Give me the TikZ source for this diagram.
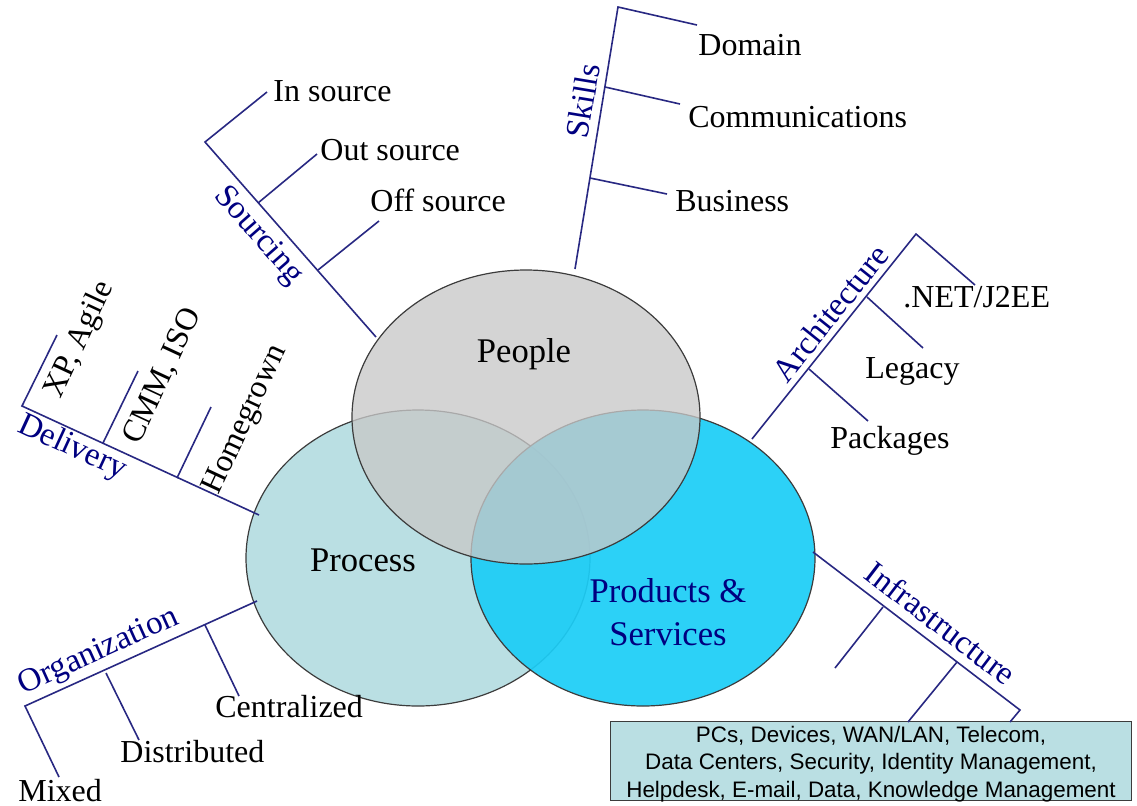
\documentclass[tikz,border=0pt]{standalone}
\usepackage{fontspec}
\setmainfont{Liberation Serif}
\newfontfamily\boxfont{Liberation Sans}
\definecolor{navyline}{RGB}{40,40,130}
\definecolor{navytext}{RGB}{0,0,128}
\definecolor{processfill}{RGB}{186,223,227}
\definecolor{productsfill}{RGB}{28,205,246}
\definecolor{peoplefill}{RGB}{200,200,200}
\definecolor{ringline}{RGB}{60,60,60}

\begin{document}
\begin{tikzpicture}[x=0.5pt,y=-0.5pt,
        ring/.style={draw=ringline,line width=0.6pt},
        branch/.style={draw=navyline,line width=0.8pt},
        item/.style={anchor=base west,inner sep=0pt,font=\fontsize{16}{19}\selectfont},
        slanted/.style={item,anchor=center,rotate=65},
        topic/.style={inner sep=0pt,text=navytext,font=\fontsize{16.5}{20}\selectfont},
        hub/.style={inner sep=0pt,align=center,font=\fontsize{17.3}{21.5}\selectfont}
    ]
    \useasboundingbox (0,0) rectangle (1137,805);
    \path[ring,fill=processfill] (418,558) ellipse [x radius=172,y radius=148];
    \path[ring,fill=productsfill,fill opacity=0.93] (643,558) ellipse [x radius=172,y radius=148];
    \path[ring,fill=peoplefill,fill opacity=0.78] (526,417) ellipse [x radius=174,y radius=147];
    \node[hub] (people) at (524,354) {People};
    \node[hub] (process) at (363,560) {Process};
    \node[hub,text=navytext] (products) at (668,612) {Products \&\\Services};

    \coordinate (srcA) at (205,142);
    \coordinate (srcB) at (376,337);
    \coordinate (srcIn) at (267,92);
    \coordinate (srcOutA) at (258,203);
    \coordinate (srcOutB) at (317,154);
    \coordinate (srcOffA) at (318,270);
    \coordinate (srcOffB) at (379,221);
    \draw[branch] (srcIn) -- (srcA) -- (srcB);
    \draw[branch] (srcOutA) -- (srcOutB);
    \draw[branch] (srcOffA) -- (srcOffB);
    \node[item] (insource) at (273,101) {In source};
    \node[item] (outsource) at (320,160) {Out source};
    \node[item] (offsource) at (370,211) {Off source};
    \node[topic,rotate=-48.7] (sourcing) at (258,236) {Sourcing};

    \coordinate (sklTop) at (618,7);
    \coordinate (sklBot) at (575,269);
    \coordinate (sklDom) at (697,25);
    \coordinate (sklComA) at (605,87);
    \coordinate (sklComB) at (680,104);
    \coordinate (sklBusA) at (590,178);
    \coordinate (sklBusB) at (667,194);
    \draw[branch] (sklBot) -- (sklTop) -- (sklDom);
    \draw[branch] (sklComA) -- (sklComB);
    \draw[branch] (sklBusA) -- (sklBusB);
    \node[item] (domain) at (698,55) {Domain};
    \node[item] (comms) at (688,127) {Communications};
    \node[item] (business) at (675,211) {Business};
    \node[topic,rotate=80.6] (skills) at (583,101) {Skills};

    \coordinate (dlvA) at (22,406);
    \coordinate (dlvB) at (259,515);
    \coordinate (dlvXP) at (57,335);
    \coordinate (dlvCmmA) at (103,443);
    \coordinate (dlvCmmB) at (138,371);
    \coordinate (dlvHomA) at (177,478);
    \coordinate (dlvHomB) at (211,407);
    \draw[branch] (dlvXP) -- (dlvA) -- (dlvB);
    \draw[branch] (dlvCmmA) -- (dlvCmmB);
    \draw[branch] (dlvHomA) -- (dlvHomB);
    \node[slanted] (agile) at (80,340) {XP, Agile};
    \node[slanted] (cmm) at (163,376) {CMM, ISO};
    \node[slanted] (homegrown) at (246,420) {Homegrown};
    \node[topic,rotate=-24.7] (delivery) at (72,448) {Delivery};

    \coordinate (orgA) at (25,706);
    \coordinate (orgB) at (257,601);
    \coordinate (orgMix) at (59,777);
    \coordinate (orgDisA) at (106,673);
    \coordinate (orgDisB) at (139,740);
    \coordinate (orgCenA) at (205,625);
    \coordinate (orgCenB) at (239,696);
    \draw[branch] (orgMix) -- (orgA) -- (orgB);
    \draw[branch] (orgDisA) -- (orgDisB);
    \draw[branch] (orgCenA) -- (orgCenB);
    \node[item] (mixed) at (18,801) {Mixed};
    \node[item] (distributed) at (120,762) {Distributed};
    \node[item] (centralized) at (215,717) {Centralized};
    \node[topic,rotate=24.3] (organization) at (99,652) {Organization};

    \coordinate (arcA) at (752,439);
    \coordinate (arcTop) at (916,234);
    \coordinate (arcNet) at (975,285);
    \coordinate (arcLegA) at (867,297);
    \coordinate (arcLegB) at (923,348);
    \coordinate (arcPacA) at (809,369);
    \coordinate (arcPacB) at (868,421);
    \draw[branch] (arcA) -- (arcTop) -- (arcNet);
    \draw[branch] (arcLegA) -- (arcLegB);
    \draw[branch] (arcPacA) -- (arcPacB);
    \node[item] (net) at (903,307) {.NET/J2EE};
    \node[item] (legacy) at (865,378) {Legacy};
    \node[item] (packages) at (830,448) {Packages};
    \node[topic,rotate=51.3] (architecture) at (830,313) {Architecture};

    \node[draw=ringline,fill=processfill,line width=0.6pt,minimum width=260.5pt,minimum height=39.5pt,
        inner sep=0pt] (infra) at (871,761) {};
    \node[inner sep=0pt,align=center,font=\boxfont\fontsize{11.2}{13.7}\selectfont] (infratext) at (871,764)
        {PCs, Devices, WAN/LAN, Telecom,\\Data Centers, Security, Identity Management,\\Helpdesk, E-mail, Data, Knowledge Management};
    \coordinate (infA) at (813,552);
    \coordinate (infB) at (1020,710);
    \coordinate (infC) at (1010,722);
    \coordinate (infOneA) at (883,607);
    \coordinate (infOneB) at (835,668);
    \coordinate (infTwoA) at (957,662);
    \coordinate (infTwoB) at (908,722);
    \draw[branch] (infA) -- (infB) -- (infC);
    \draw[branch] (infOneA) -- (infOneB);
    \draw[branch] (infTwoA) -- (infTwoB);
    \node[topic,rotate=-37.4] (infrastructure) at (941,623) {Infrastructure};
\end{tikzpicture}
\end{document}
